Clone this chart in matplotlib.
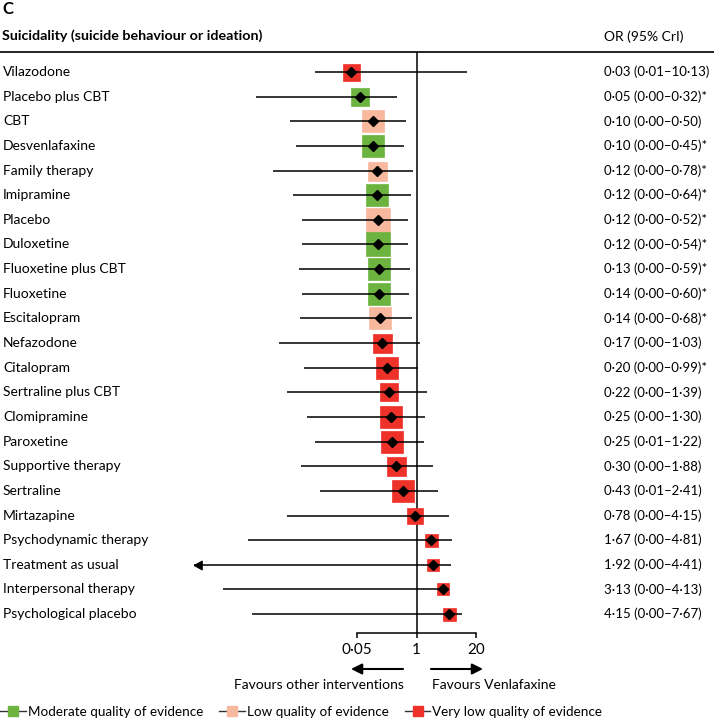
import matplotlib
matplotlib.use("Agg")
import matplotlib.pyplot as plt
import matplotlib.transforms as mtransforms
from matplotlib.lines import Line2D
from matplotlib.path import Path
from matplotlib.patches import FancyArrowPatch

# ---------------- data ----------------
treatments = ["Vilazodone", "Placebo plus CBT", "CBT", "Desvenlafaxine", "Family therapy",
              "Imipramine", "Placebo", "Duloxetine", "Fluoxetine plus CBT", "Fluoxetine",
              "Escitalopram", "Nefazodone", "Citalopram", "Sertraline plus CBT", "Clomipramine",
              "Paroxetine", "Supportive therapy", "Sertraline", "Mirtazapine",
              "Psychodynamic therapy", "Treatment as usual", "Interpersonal therapy",
              "Psychological placebo"]
or_point = [0.038, 0.059, 0.113, 0.113, 0.138, 0.138, 0.146, 0.146, 0.153, 0.153, 0.161,
            0.178, 0.229, 0.25, 0.279, 0.293, 0.358, 0.509, 0.93, 2.07, 2.28, 3.77, 5.09]
ci_lower = [0.0062, 0.00032, 0.0018, 0.0024, 0.00076, 0.0021, 0.0032, 0.0032, 0.0028, 0.0032,
            0.0029, 0.00103, 0.0036, 0.0015, 0.0042, 0.0062, 0.0031, 0.008, 0.0015, 0.00022,
            1e-6, 0.000062, 0.00027]
ci_upper = [12.5, 0.377, 0.59, 0.535, 0.84, 0.76, 0.65, 0.65, 0.72, 0.69, 0.80, 1.19, 1.08,
            1.69, 1.53, 1.46, 2.28, 2.93, 5.09, 5.9, 5.6, 5.09, 9.75]
quality = ["very low", "moderate", "low", "moderate", "low", "moderate", "low", "moderate",
           "moderate", "moderate", "low", "very low", "very low", "very low", "very low",
           "very low", "very low", "very low", "very low", "very low", "very low", "very low",
           "very low"]
weights = [17, 18, 22, 23, 19, 22, 24, 24, 23, 23, 23, 19, 22, 18, 22, 23, 19, 22, 16, 13, 12,
           12, 13]
or_labels = ["0·03 (0·01–10·13)", "0·05 (0·00–0·32)*", "0·10 (0·00–0·50)", "0·10 (0·00–0·45)*",
             "0·12 (0·00–0·78)*", "0·12 (0·00–0·64)*", "0·12 (0·00–0·52)*", "0·12 (0·00–0·54)*",
             "0·13 (0·00–0·59)*", "0·14 (0·00–0·60)*", "0·14 (0·00–0·68)*", "0·17 (0·00–1·03)",
             "0·20 (0·00–0·99)*", "0·22 (0·00–1·39)", "0·25 (0·00–1·30)", "0·25 (0·01–1·22)",
             "0·30 (0·00–1·88)", "0·43 (0·01–2·41)", "0·78 (0·00–4·15)", "1·67 (0·00–4·81)",
             "1·92 (0·00–4·41)", "3·13 (0·00–4·13)", "4·15 (0·00–7·67)"]
x_ticks = [0.05, 1, 20]
x_tick_labels = ["0·05", "1", "20"]
quality_names = ["moderate", "low", "very low"]
quality_labels = ["Moderate quality of evidence", "Low quality of evidence",
                  "Very low quality of evidence"]

# ---------------- style / layout ----------------
colors = {"moderate": "#6DB33F", "low": "#F8B89E", "very low": "#EE3229"}
FONT = ["Lato", "DejaVu Sans"]
plt.rcParams["font.family"] = FONT
FS = 10

W, H = 714, 719
fig = plt.figure(figsize=(W / 100, H / 100), dpi=100)

px_one, px_per_dec = 416.5, 46.0
ax_l, ax_r, ax_t, ax_b = 194, 490, 52, 633
row0, step = 72, 24.64

ax = fig.add_axes([ax_l / W, 1 - ax_b / H, (ax_r - ax_l) / W, (ax_b - ax_t) / H])
ax.set_xscale("log")
xlim = (10 ** ((ax_l - px_one) / px_per_dec), 10 ** ((ax_r - px_one) / px_per_dec))
ax.set_xlim(*xlim)
ax.set_ylim((ax_b - row0) / step, (ax_t - row0) / step)
ax.patch.set_visible(False)
for s in ["top", "left", "right"]:
    ax.spines[s].set_visible(False)
ax.spines["bottom"].set_bounds(x_ticks[0], x_ticks[-1])
ax.spines["bottom"].set_linewidth(1.1)
ax.set_xticks(x_ticks)
ax.set_xticklabels(x_tick_labels, fontsize=FS + 1)
ax.xaxis.set_minor_locator(matplotlib.ticker.NullLocator())
ax.tick_params(axis="x", direction="out", length=3.6, width=1.1, pad=3.5)
ax.set_yticks([])
ax.axvline(1, color="black", lw=1.1, zorder=1)

# left-pointing arrow marker with tip at origin
arrow_path = Path([(0, 0), (1, -0.55), (1, 0.55), (0, 0)],
                  [Path.MOVETO, Path.LINETO, Path.LINETO, Path.CLOSEPOLY])

for i, (pt, lo, hi, q, w) in enumerate(zip(or_point, ci_lower, ci_upper, quality, weights)):
    ax.plot(pt, i, marker="s", ms=w * 0.72, mfc=colors[q], mec=colors[q], mew=0.5,
            ls="none", zorder=2)
    ax.plot([lo, hi], [i, i], color="black", lw=1.1, zorder=3, solid_capstyle="butt")
    if lo < xlim[0]:
        ax.plot(xlim[0], i, marker=arrow_path, ms=11, color="black", ls="none", zorder=4,
                clip_on=False)
    ax.plot(pt, i, marker="D", ms=5.4, color="black", ls="none", zorder=5)

# ---------------- text ----------------
tr_left = mtransforms.blended_transform_factory(fig.transFigure, ax.transData)
for i, (name, lab) in enumerate(zip(treatments, or_labels)):
    fig.text(3 / W, i, name, transform=tr_left, va="center", ha="left", fontsize=FS)
    fig.text(604 / W, i, lab, transform=tr_left, va="center", ha="left", fontsize=FS - 0.5)

fig.text(2 / W, 1 - 8.5 / H, "C", fontsize=FS + 2, fontweight="bold", va="center", ha="left")
fig.text(2 / W, 1 - 36 / H, "Suicidality (suicide behaviour or ideation)", fontsize=FS + 0.3,
         fontweight="bold", va="center", ha="left")
fig.text(604 / W, 1 - 37 / H, "OR (95% CrI)", fontsize=FS, va="center", ha="left")
fig.add_artist(Line2D([0, 1], [1 - 52 / H, 1 - 52 / H], color="black", lw=1.2,
                      transform=fig.transFigure))

# favours arrows
ap = dict(arrowstyle="-|>", mutation_scale=16, lw=1.5, color="black", shrinkA=0, shrinkB=0)
fig.add_artist(FancyArrowPatch((403 / W, 1 - 669 / H), (351 / W, 1 - 669 / H),
                               transform=fig.transFigure, **ap))
fig.add_artist(FancyArrowPatch((431 / W, 1 - 669 / H), (483 / W, 1 - 669 / H),
                               transform=fig.transFigure, **ap))
fig.text(319 / W, 1 - 685 / H, "Favours other interventions", fontsize=FS, va="center",
         ha="center")
fig.text(432 / W, 1 - 685 / H, "Favours Venlafaxine", fontsize=FS, va="center", ha="left")

# legend
handles = [Line2D([0], [0], color="#333333", lw=1.0, marker="s", ms=7, mfc=colors[q],
                  mec=colors[q]) for q in quality_names]
fig.legend(handles, quality_labels, loc="lower left", bbox_to_anchor=(0, 1 / H), ncol=3,
           frameon=False, fontsize=FS - 0.3, handlelength=1.9, handletextpad=0.15,
           columnspacing=1.2, borderpad=0, borderaxespad=0)

fig.savefig("out.png", dpi=100)
